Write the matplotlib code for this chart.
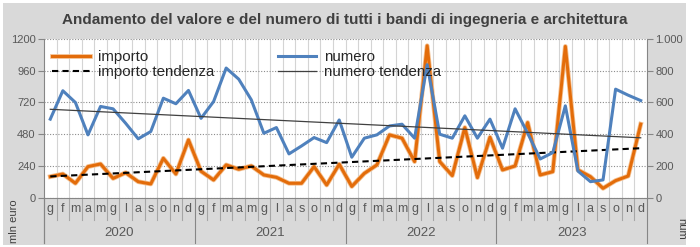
import numpy as np
import matplotlib
matplotlib.use('Agg')
import matplotlib.pyplot as plt
import matplotlib.patheffects as pe
from matplotlib.lines import Line2D
from matplotlib.patches import Rectangle

plt.rcParams['font.family'] = 'Liberation Sans'

# monthly data 2020-2023
mesi = ['g', 'f', 'm', 'a', 'm', 'g', 'l', 'a', 's', 'o', 'n', 'd']
anni = ['2020', '2021', '2022', '2023']

importo = [159, 179, 109, 235, 255, 146, 189, 121, 104, 298, 179, 437,
           200, 134, 248, 215, 240, 172, 154, 109, 109, 235, 96, 253,
           85, 184, 248, 475, 450, 273, 1149, 273, 167, 530, 152, 457,
           210, 240, 568, 172, 197, 1144, 210, 159, 71, 129, 164, 556]

numero = [495, 674, 600, 396, 575, 560, 469, 371, 417, 627, 592, 676,
          500, 606, 817, 747, 617, 406, 442, 276, 326, 379, 347, 490,
          255, 375, 396, 452, 463, 375, 838, 400, 375, 516, 375, 495,
          312, 560, 406, 244, 284, 579, 168, 101, 112, 684, 646, 612]

x = np.arange(len(importo))
imp_fit = np.polyval(np.polyfit(x, importo, 1), x)
num_fit = np.polyval(np.polyfit(x, numero, 1), x)

orange = '#E36C0A'
blue = '#4F81BD'
txt = '#595959'
axc = '#868686'
glow = [pe.Stroke(linewidth=3.4, foreground='#f4c090'), pe.Normal()]

W, H = 700, 247
fig = plt.figure(figsize=(7, 2.47), dpi=100)
fig.patch.set_facecolor('white')
fig.patches.append(Rectangle((3 / W, 2 / H), 683 / W, 242 / H, transform=fig.transFigure,
                             facecolor='#d9d9d9', edgecolor='none', zorder=-5))

ax = fig.add_axes([44 / W, 49.3 / H, 603 / W, 158.7 / H])
ax.set_facecolor('white')
ax.set_xlim(-0.5, 47.5)
ax.set_ylim(0, 1200)
ax.set_yticks(range(0, 1201, 240))
ax.yaxis.grid(True, linestyle=(0, (1, 1.5)), color='#8c8c8c', lw=0.8)
ax.set_axisbelow(True)
ax.vlines(np.arange(0.5, 47), 0, 1200, color='#d4d4d4', lw=0.8, zorder=0.5)

for s in ['top', 'right']:
    ax.spines[s].set_visible(False)
ax.spines['left'].set_color(axc)
ax.spines['bottom'].set_color(axc)
ax.tick_params(axis='y', colors=axc, labelcolor=txt, labelsize=8, length=4, width=0.8, pad=2)
ax.set_xticks(x)
ax.set_xticklabels(mesi * 4)
ax.tick_params(axis='x', length=0, labelcolor=txt, labelsize=9, pad=3.5)

# category separators
xt = ax.get_xaxis_transform()
for p in np.arange(-0.5, 48):
    yr = (p + 0.5) % 12 == 0
    ax.plot([p, p], [0, -0.285 if yr else -0.14], transform=xt, clip_on=False,
            color=axc if yr else '#a6a6a6', lw=0.8)
for i, a in enumerate(anni):
    ax.text(i * 12 + 5.5, -0.225, a, transform=xt, ha='center', va='center',
            fontsize=9.5, color=txt)

ax.plot(x, importo, color=orange, lw=2.2, zorder=3, path_effects=glow)
ax.plot(x, imp_fit, color='black', lw=1.5, ls=(0, (3, 2)), zorder=4)

ax2 = ax.twinx()
ax2.set_ylim(0, 1000)
ax2.set_yticks(range(0, 1001, 200))
ax2.set_yticklabels([f'{v:,}'.replace(',', '.') for v in range(0, 1001, 200)])
for s in ['top', 'left', 'bottom']:
    ax2.spines[s].set_visible(False)
ax2.spines['right'].set_color(axc)
ax2.tick_params(axis='y', colors=axc, labelcolor=txt, labelsize=8, length=4, width=0.8, pad=2)
ax2.plot(x, numero, color=blue, lw=2.2, zorder=3)
ax2.plot(x, num_fit, color='#404040', lw=0.9, zorder=4)

# left axis line down to the bottom of the category band
ax.plot([-0.5, -0.5], [0, -0.285], transform=xt, clip_on=False, color=axc, lw=0.8)

fig.text(14 / W, 1 - 221 / H, 'mln euro', rotation=90, ha='center', va='center',
         fontsize=8, color='#404040')
fig.text(681 / W, 1 - 229 / H, 'num', rotation=270, ha='center', va='center',
         fontsize=8, color='#404040')

fig.text(345 / W, 1 - 20 / H,
         'Andamento del valore e del numero di tutti i bandi di ingegneria e architettura',
         ha='center', va='center', fontsize=11, fontweight='bold', color='#404040')

h_imp = Line2D([], [], color=orange, lw=2.2, path_effects=glow)
h_impt = Line2D([], [], color='black', lw=1.5, ls=(0, (3, 2)))
h_num = Line2D([], [], color=blue, lw=2.2)
h_numt = Line2D([], [], color='#404040', lw=0.9)

kw = dict(loc='upper left', frameon=False, fontsize=10.8, handlelength=2.55,
          handletextpad=0.5, labelspacing=0.05, borderpad=0, borderaxespad=0,
          labelcolor='#262626')
leg1 = ax2.legend([h_imp, h_impt], ['importo', 'importo tendenza'],
                  bbox_to_anchor=(8 / 603, 0.93), **kw)
ax2.add_artist(leg1)
ax2.legend([h_num, h_numt], ['numero', 'numero tendenza'],
           bbox_to_anchor=(234 / 603, 0.93), **kw)

fig.savefig('out.png', dpi=100, facecolor=fig.get_facecolor())
